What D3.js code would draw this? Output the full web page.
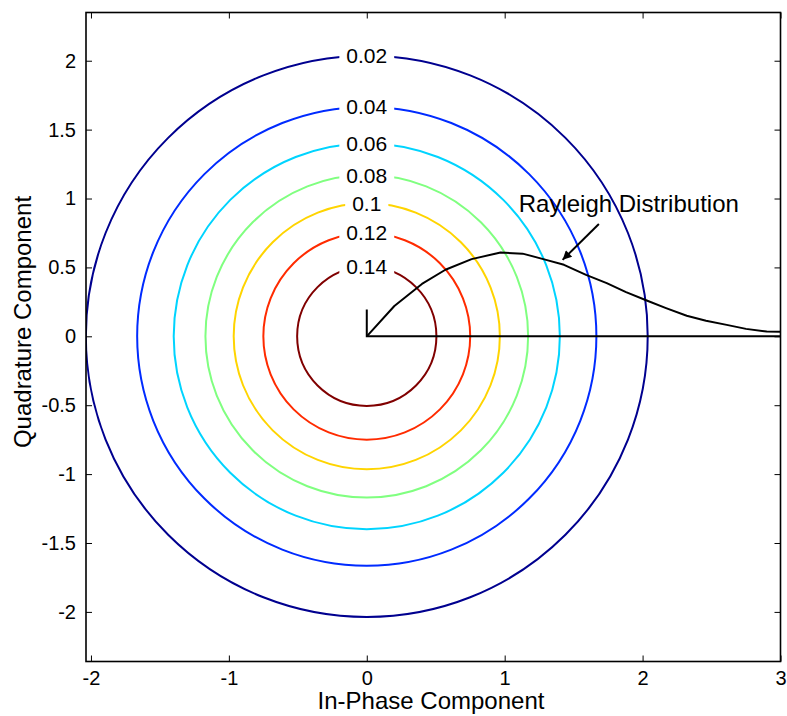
<!DOCTYPE html>
<html>
<head>
<meta charset="utf-8">
<script src="https://cdn.jsdelivr.net/npm/d3@7"></script>
<style>
  html, body { margin: 0; padding: 0; background: #fff; }
  svg { display: block; font-family: "Liberation Sans", Arial, Helvetica, sans-serif; }
</style>
</head>
<body>
<svg id="chart" width="787" height="716"></svg>
<script>
// Contour levels of the joint I/Q density and the radius at which each closes
const levels = [0.02, 0.04, 0.06, 0.08, 0.1, 0.12, 0.14];
const levelRadii = [2.037, 1.665, 1.40, 1.17, 0.965, 0.75, 0.505];
const levelColors = ["#00008F", "#002BFF", "#00D4FF", "#80FF80", "#FFD400", "#FF2B00", "#800000"];

// Rayleigh envelope density drawn along the positive in-phase axis
const rayleighX = [0, 0.2, 0.4, 0.57, 0.76, 0.97, 1.13, 1.28, 1.43, 1.59, 1.74, 1.88, 2.03, 2.17, 2.32, 2.46, 2.61, 2.75, 2.9, 3.0];
const rayleighY = [0, 0.22, 0.38, 0.483, 0.56, 0.608, 0.60, 0.56, 0.519, 0.446, 0.386, 0.321, 0.26, 0.205, 0.149, 0.113, 0.083, 0.054, 0.035, 0.033];
const rayleighAxisTop = 0.195;

// Axis ticks
const xTicks = [-2, -1, 0, 1, 2, 3];
const yTicks = [-2, -1.5, -1, -0.5, 0, 0.5, 1, 1.5, 2];

// Annotation: text anchor, arrow tail and arrow tip (data units)
const noteText = "Rayleigh Distribution";
const notePos = [1.90, 0.965];
const arrowFrom = [1.683, 0.815];
const arrowTo = [1.42, 0.555];

const svg = d3.select("#chart");
const L = 86, R = 780.5, T = 12.5, B = 661.5;

const x = d3.scaleLinear().domain([-2.036, 3]).range([L, R]);
const y = d3.scaleLinear().domain([-2.36, 2.35]).range([B, T]);

const defs = svg.append("defs");
defs.append("clipPath").attr("id", "plotClip")
  .append("rect").attr("x", L).attr("y", T).attr("width", R - L).attr("height", B - T);
defs.append("marker").attr("id", "arrowHead")
  .attr("viewBox", "0 0 10 10").attr("refX", 10).attr("refY", 5)
  .attr("markerUnits", "userSpaceOnUse")
  .attr("markerWidth", 14).attr("markerHeight", 9).attr("orient", "auto")
  .append("path").attr("d", "M0,0 L10,5 L0,10 Z").attr("fill", "#000");

const plot = svg.append("g").attr("clip-path", "url(#plotClip)");

// Contour rings
const rings = levels.map((lv, i) => ({ level: lv, r: levelRadii[i], color: levelColors[i] }));
plot.selectAll("ellipse.ring").data(rings).enter().append("ellipse")
  .attr("class", "ring")
  .attr("cx", x(0)).attr("cy", y(0))
  .attr("rx", d => x(d.r) - x(0))
  .attr("ry", d => y(0) - y(d.r))
  .attr("fill", "none")
  .attr("stroke", d => d.color)
  .attr("stroke-width", 2);

// Level labels sit in a gap cut at the top of each ring
const labelG = plot.append("g");
rings.forEach(d => {
  const g = labelG.append("g");
  const bg = g.append("rect").attr("fill", "#fff");
  const t = g.append("text")
    .attr("x", x(0)).attr("y", y(d.r))
    .attr("text-anchor", "middle")
    .attr("dominant-baseline", "central")
    .attr("font-size", 21)
    .attr("fill", "#000")
    .text(d.level);
  const w = t.node().getComputedTextLength();
  bg.attr("x", x(0) - w / 2 - 7).attr("width", w + 14)
    .attr("y", y(d.r) - 9).attr("height", 18);
});

// Rayleigh curve with its own baseline and short vertical axis at the origin
const pts = rayleighX.map((v, i) => [v, rayleighY[i]]);
const line = d3.line().x(d => x(d[0])).y(d => y(d[1]));
plot.append("path").datum(pts).attr("d", line)
  .attr("fill", "none").attr("stroke", "#000").attr("stroke-width", 2)
  .attr("stroke-linejoin", "round");
plot.append("path").datum([[0, rayleighAxisTop], [0, 0], [3, 0]]).attr("d", line)
  .attr("fill", "none").attr("stroke", "#000").attr("stroke-width", 2);

// Annotation
svg.append("line")
  .attr("x1", x(arrowFrom[0])).attr("y1", y(arrowFrom[1]))
  .attr("x2", x(arrowTo[0])).attr("y2", y(arrowTo[1]))
  .attr("stroke", "#000").attr("stroke-width", 2)
  .attr("marker-end", "url(#arrowHead)");
svg.append("text")
  .attr("x", x(notePos[0])).attr("y", y(notePos[1]))
  .attr("text-anchor", "middle").attr("dominant-baseline", "central")
  .attr("font-size", 24).text(noteText);

// Axes with inward ticks, mirrored on the top and right edges
const fmt = d => String(d);
const axisStyle = g => {
  g.select(".domain").remove();
  g.selectAll(".tick line").attr("stroke", "#000").attr("stroke-width", 1);
  g.selectAll(".tick text").attr("font-size", 20).attr("fill", "#000")
    .attr("font-family", "Liberation Sans, Arial, sans-serif");
};
svg.append("g").attr("transform", `translate(0,${B})`)
  .call(d3.axisBottom(x).tickValues(xTicks).tickFormat(fmt).tickSizeInner(-6).tickSizeOuter(0).tickPadding(9))
  .call(axisStyle);
svg.append("g").attr("transform", `translate(0,${T})`)
  .call(d3.axisTop(x).tickValues(xTicks).tickFormat("").tickSizeInner(-6).tickSizeOuter(0))
  .call(axisStyle);
svg.append("g").attr("transform", `translate(${L},0)`)
  .call(d3.axisLeft(y).tickValues(yTicks).tickFormat(fmt).tickSizeInner(-6).tickSizeOuter(0).tickPadding(10))
  .call(axisStyle);
svg.append("g").attr("transform", `translate(${R},0)`)
  .call(d3.axisRight(y).tickValues(yTicks).tickFormat("").tickSizeInner(-6).tickSizeOuter(0))
  .call(axisStyle);

svg.append("rect").attr("x", L).attr("y", T).attr("width", R - L).attr("height", B - T)
  .attr("fill", "none").attr("stroke", "#000").attr("stroke-width", 1.6);

// Axis titles
svg.append("text").attr("x", 431).attr("y", 709)
  .attr("text-anchor", "middle").attr("font-size", 24).text("In-Phase Component");
svg.append("text").attr("transform", "translate(31,322) rotate(-90)")
  .attr("text-anchor", "middle").attr("font-size", 24).text("Quadrature Component");
</script>
</body>
</html>
